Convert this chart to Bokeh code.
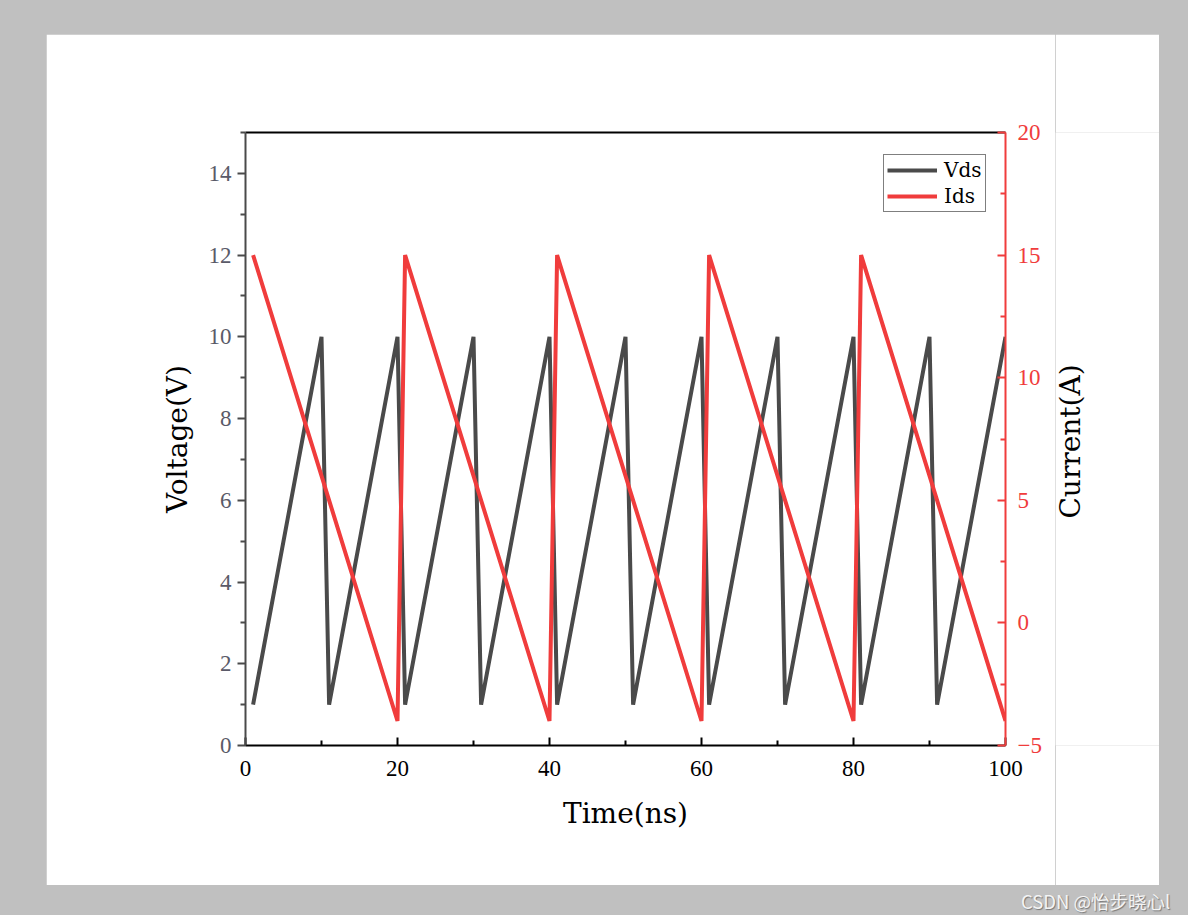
import math
from bokeh.plotting import figure
from bokeh.models import Range1d, LinearAxis, FixedTicker, Legend, LegendItem, Div
from bokeh.layouts import column, row
from bokeh.core.properties import value
from bokeh.embed import file_html
from bokeh.resources import INLINE

# ---- data ----
vds_t = [1, 10, 11, 20, 21, 30, 31, 40, 41, 50, 51, 60, 61, 70, 71, 80, 81, 90, 91, 100]
vds_v = [1, 10, 1, 10, 1, 10, 1, 10, 1, 10, 1, 10, 1, 10, 1, 10, 1, 10, 1, 10]
ids_t = [1, 20, 21, 40, 41, 60, 61, 80, 81, 100]
ids_a = [15, -4, 15, -4, 15, -4, 15, -4, 15, -4]
x_ticks = [0, 20, 40, 60, 80, 100]
v_ticks = [0, 2, 4, 6, 8, 10, 12, 14]
a_ticks = [-5, 0, 5, 10, 15, 20]
right_title = ["Current(A)"]

TICK_FONT = "Liberation Serif"
TITLE_FONT = "DejaVu Serif"
GRAY = "#4a4a4a"
RED = "#f03c3c"

p = figure(width=1009, height=851, output_backend="svg", toolbar_location=None,
           x_range=Range1d(0, 100), y_range=Range1d(0, 15),
           x_axis_location=None, y_axis_location=None,
           min_border_left=199, min_border_right=50, min_border_top=98, min_border_bottom=140)
p.margin = (34, 0, 0, 46)
p.border_fill_color = "white"
p.background_fill_color = "white"
p.outline_line_color = None
p.xgrid.visible = False
p.ygrid.visible = False
p.extra_y_ranges = {"right": Range1d(-5, 20)}

# bottom axis
xb = LinearAxis(ticker=FixedTicker(ticks=x_ticks, minor_ticks=[10, 30, 50, 70, 90]),
                axis_label="Time(ns)")
xb.axis_line_color = "black"
xb.axis_line_width = 2
xb.major_tick_in = 8
xb.major_tick_out = 0
xb.minor_tick_in = 5
xb.minor_tick_out = 0
xb.major_tick_line_color = "black"
xb.minor_tick_line_color = "black"
xb.major_tick_line_width = 2
xb.minor_tick_line_width = 2
xb.major_label_text_font = TICK_FONT
xb.major_label_text_font_size = "23px"
xb.major_label_text_color = "black"
xb.major_label_standoff = 15
xb.axis_label_text_font = TITLE_FONT
xb.axis_label_text_font_size = "28px"
xb.axis_label_text_font_style = "normal"
xb.axis_label_text_color = "black"
xb.axis_label_standoff = 18
p.add_layout(xb, "below")

# top axis (line only)
xt = LinearAxis(ticker=FixedTicker(ticks=[]))
xt.axis_line_color = "black"
xt.axis_line_width = 2
xt.major_tick_line_color = None
xt.minor_tick_line_color = None
xt.major_label_text_font_size = "0px"
p.add_layout(xt, "above")

# left axis
yl = LinearAxis(ticker=FixedTicker(ticks=v_ticks, minor_ticks=[1, 3, 5, 7, 9, 11, 13, 15]),
                axis_label="Voltage(V)")
yl.axis_line_color = GRAY
yl.axis_line_width = 2
yl.major_tick_out = 8
yl.major_tick_in = 0
yl.minor_tick_out = 5
yl.minor_tick_in = 0
yl.major_tick_line_color = GRAY
yl.minor_tick_line_color = GRAY
yl.major_tick_line_width = 2
yl.minor_tick_line_width = 2
yl.major_label_text_font = TICK_FONT
yl.major_label_text_font_size = "23px"
yl.major_label_text_color = "#5a5a68"
yl.major_label_standoff = 6
yl.axis_label_text_font = TITLE_FONT
yl.axis_label_text_font_size = "28px"
yl.axis_label_text_font_style = "normal"
yl.axis_label_text_color = "black"
yl.axis_label_standoff = 12
p.add_layout(yl, "left")

# right axis (line, ticks, labels)
yr = LinearAxis(y_range_name="right",
                ticker=FixedTicker(ticks=a_ticks, minor_ticks=[-2.5, 2.5, 7.5, 12.5, 17.5]))
yr.axis_line_color = RED
yr.axis_line_width = 2
yr.major_tick_in = 8
yr.major_tick_out = 0
yr.minor_tick_in = 5
yr.minor_tick_out = 0
yr.major_tick_line_color = RED
yr.minor_tick_line_color = RED
yr.major_tick_line_width = 2
yr.minor_tick_line_width = 2
yr.major_label_text_font = TICK_FONT
yr.major_label_text_font_size = "23px"
yr.major_label_text_color = RED
yr.major_label_standoff = 12
p.add_layout(yr, "right")

r_v = p.line(vds_t, vds_v, line_color=GRAY, line_width=4)
r_i = p.line(ids_t, ids_a, line_color=RED, line_width=4, y_range_name="right")

legend = Legend(items=[LegendItem(label="Vds", renderers=[r_v]),
                       LegendItem(label="Ids", renderers=[r_i])],
                location=(638, 533))
legend.border_line_color = "black"
legend.border_line_width = 1.5
legend.background_fill_color = "white"
legend.background_fill_alpha = 1
legend.label_text_font = TITLE_FONT
legend.label_text_font_size = "20px"
legend.label_text_color = "black"
legend.glyph_width = 50
legend.glyph_height = 22
legend.label_height = 22
legend.label_standoff = 7
legend.spacing = 2
legend.padding = 3
legend.margin = 0
p.add_layout(legend, "center")

# right-hand strip carrying the right axis title (reads bottom-to-top);
# its frame is aligned with the main frame (613 px tall)
p2 = figure(width=104, height=851, output_backend="svg", toolbar_location=None,
            x_range=Range1d(0, 104), y_range=Range1d(0, 613),
            x_axis_location=None, y_axis_location=None,
            min_border_left=0, min_border_right=0, min_border_top=0, min_border_bottom=0)
p2.margin = (34, 0, 0, 0)
p2.border_fill_color = "white"
p2.background_fill_color = "white"
p2.outline_line_color = None
p2.xgrid.visible = False
p2.ygrid.visible = False
p2.text(x=[14.5], y=[304], text=right_title, angle=math.pi / 2,
        text_align="center", text_baseline="middle",
        text_font=value(TITLE_FONT), text_font_size="28px", text_color="black")

div = Div(text="CSDN @怡步晓心l", width=175, height=24, margin=(3, 0, 0, 1021),
          styles={"color": "#f4f4f4", "font-family": "Noto Sans CJK SC, sans-serif",
                  "font-size": "18.5px", "text-shadow": "1px 1px 1px #777"})

layout = column(row(p, p2, spacing=0), div)
html = file_html(layout, INLINE)
html = html.replace("</head>",
                    "<style>html,body{background:#c0c0c0 !important;margin:0 !important;padding:0 !important;}</style></head>", 1)
open("out.html", "w").write(html)
